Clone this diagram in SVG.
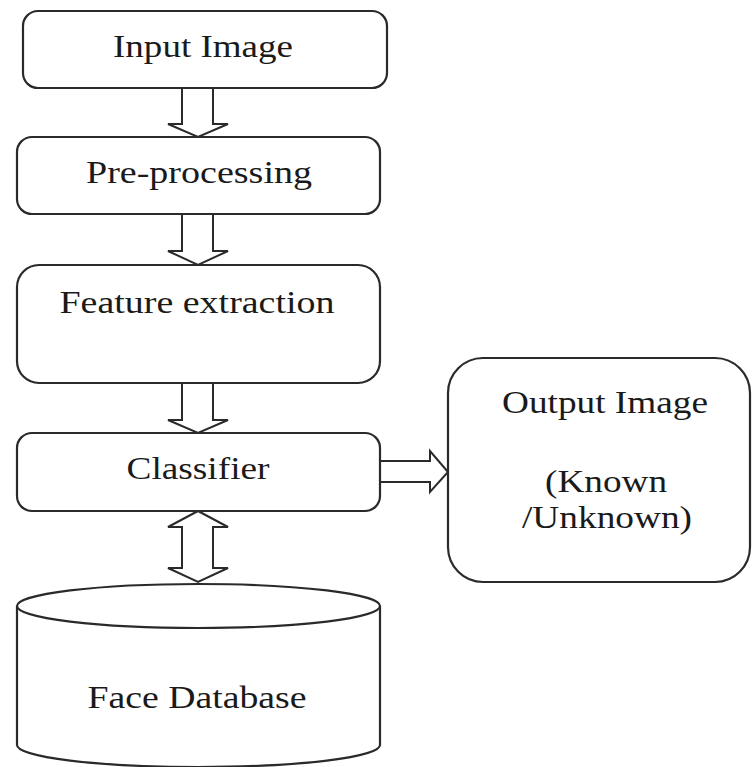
<svg xmlns="http://www.w3.org/2000/svg" width="752" height="767" viewBox="0 0 752 767">
<style>
.box{fill:#fff;stroke:#2a2a2a;stroke-width:2.2}
.arr{fill:#fff;stroke:#2a2a2a;stroke-width:2;stroke-linejoin:miter}
.t{font-family:"Liberation Serif","Times New Roman",serif;font-size:32px;fill:#1a1a1a;text-anchor:middle}
</style>
<rect width="752" height="767" fill="#fff"/>
<g id="connectors">
<polygon class="arr" points="182,88 182,124 168,124 198,137 228,124 213,124 213,88"/>
<polygon class="arr" points="182,214 182,251 168,251 198,265 228,251 213,251 213,214"/>
<polygon class="arr" points="182,383 182,420 168,420 198,433 228,420 213,420 213,383"/>
<polygon class="arr" points="198,511 168,527 182,527 182,568 168,568 198,582 228,568 213,568 213,527 228,527"/>
<polygon class="arr" points="380,461 430,461 430,451 448,472 430,492 430,482 380,482"/>
</g>
<g id="input-image">
<rect class="box" x="23" y="11" width="364" height="77" rx="15"/>
<text class="t" x="203" y="57" textLength="180" lengthAdjust="spacingAndGlyphs">Input Image</text>
</g>
<g id="pre-processing">
<rect class="box" x="17" y="137" width="363" height="77" rx="15"/>
<text class="t" x="199" y="183" textLength="226" lengthAdjust="spacingAndGlyphs">Pre-processing</text>
</g>
<g id="feature-extraction">
<rect class="box" x="17" y="265" width="363" height="118" rx="22"/>
<text class="t" x="197" y="313" textLength="275" lengthAdjust="spacingAndGlyphs">Feature extraction</text>
</g>
<g id="classifier">
<rect class="box" x="17" y="433" width="363" height="78" rx="15"/>
<text class="t" x="198" y="479" textLength="143" lengthAdjust="spacingAndGlyphs">Classifier</text>
</g>
<g id="output-image">
<rect class="box" x="448" y="358" width="302" height="224" rx="35"/>
<text class="t" x="605" y="413" textLength="206" lengthAdjust="spacingAndGlyphs">Output Image</text>
<text class="t" x="606" y="492" textLength="122" lengthAdjust="spacingAndGlyphs">(Known</text>
<text class="t" x="607" y="528" textLength="170" lengthAdjust="spacingAndGlyphs">/Unknown)</text>
</g>
<g id="face-database">
<path class="box" d="M17,606 L17,745 A181.5,22 0 0 0 380,745 L380,606"/>
<ellipse class="box" cx="198.5" cy="606" rx="181.5" ry="22"/>
<text class="t" x="197" y="708" textLength="219" lengthAdjust="spacingAndGlyphs">Face Database</text>
</g>
</svg>
